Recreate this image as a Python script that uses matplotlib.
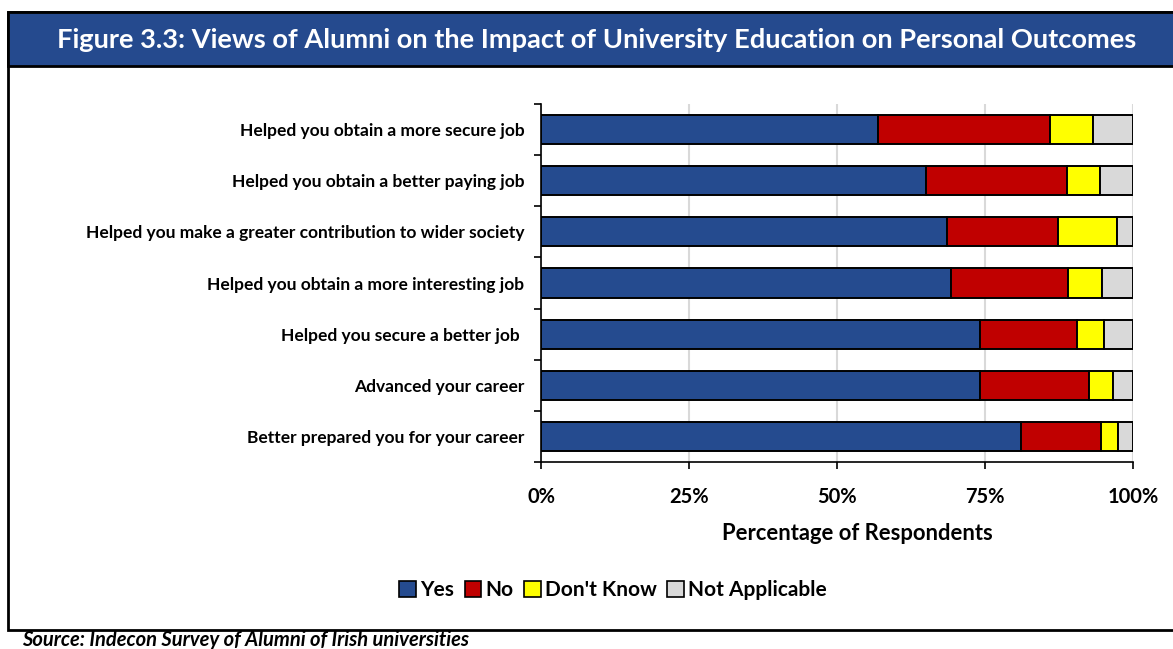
import numpy as np
import matplotlib.pyplot as plt
from matplotlib.patches import Rectangle, Patch

plt.rcParams['font.family'] = ['Lato', 'DejaVu Sans']

# survey statements, top to bottom
statements = [
    'Helped you obtain a more secure job',
    'Helped you obtain a better paying job',
    'Helped you make a greater contribution to wider society',
    'Helped you obtain a more interesting job',
    'Helped you secure a better job ',
    'Advanced your career',
    'Better prepared you for your career',
]

# share of respondents (%) per answer
yes = [57.0, 65.0, 68.6, 69.3, 74.1, 74.2, 81.0]
no = [29.0, 23.9, 18.7, 19.8, 16.5, 18.4, 13.6]
dont_know = [7.2, 5.6, 10.0, 5.6, 4.5, 4.1, 2.9]
not_applicable = [6.8, 5.5, 2.7, 5.3, 4.9, 3.3, 2.5]

answers = ['Yes', 'No', "Don't Know", 'Not Applicable']
colours = ['#254B8F', '#C00000', '#FFFF00', '#D9D9D9']

W, H = 1173, 649
fig = plt.figure(figsize=(W / 100, H / 100), dpi=100)

# frame and title banner
fig.patches.append(Rectangle((8 / W, 1 - 630 / H), 1.2, 618 / H, transform=fig.transFigure,
                             facecolor='white', edgecolor='black', lw=2, zorder=-10))
fig.patches.append(Rectangle((8 / W, 1 - 66 / H), 1.2, 54 / H, transform=fig.transFigure,
                             facecolor='#254A8E', edgecolor='black', lw=2, zorder=-5))
fig.text(597 / W, 1 - 40 / H,
         'Figure 3.3: Views of Alumni on the Impact of University Education on Personal Outcomes',
         color='white', fontsize=19.6, fontweight='bold', ha='center', va='center')

ax = fig.add_axes([541 / W, 1 - 462 / H, 592 / W, 358 / H])
ax.set_facecolor('none')
y = np.arange(len(statements))
left = np.zeros(len(statements))
for vals, name, col in zip([yes, no, dont_know, not_applicable], answers, colours):
    ax.barh(y, vals, left=left, height=0.57, color=col, edgecolor='black', lw=1.4,
            label=name, zorder=3)
    left += np.array(vals)

ax.set_xlim(0, 100)
ax.set_ylim(len(statements) - 0.5, -0.5)
ax.set_xticks([0, 25, 50, 75, 100])
ax.set_xticklabels(['0%', '25%', '50%', '75%', '100%'], fontsize=14.5, fontweight='bold')
ax.set_yticks(y)
ax.set_yticklabels(statements, fontsize=12.5, fontweight='bold')
ax.set_yticks(np.arange(len(statements) + 1) - 0.5, minor=True)
ax.tick_params(axis='y', which='major', length=0, pad=12)
ax.tick_params(axis='y', which='minor', length=5, width=1.2, direction='out')
ax.tick_params(axis='x', length=5, width=1.2, direction='out', pad=13)
ax.grid(axis='x', color='#D9D9D9', lw=1.5, zorder=0)
for s in ['top', 'right']:
    ax.spines[s].set_visible(False)
for s in ['left', 'bottom']:
    ax.spines[s].set_linewidth(1.2)

fig.text(857 / W, 1 - 533 / H, 'Percentage of Respondents', fontsize=15.8,
         fontweight='bold', ha='center', va='center')

handles = [Patch(facecolor=c, edgecolor='black', lw=1.2) for c in colours]
fig.legend(handles, answers, loc='center', bbox_to_anchor=(613 / W, 1 - 590 / H), ncol=4,
           frameon=False, prop={'weight': 'bold', 'size': 15}, handlelength=0.8,
           handleheight=0.8, handletextpad=0.2, columnspacing=0.5)

fig.text(22 / W, 1 - 640 / H, 'Source: Indecon Survey of Alumni of Irish universities',
         fontsize=14.5, fontweight='bold', fontstyle='italic', va='center')

fig.savefig('out.png', dpi=100)
